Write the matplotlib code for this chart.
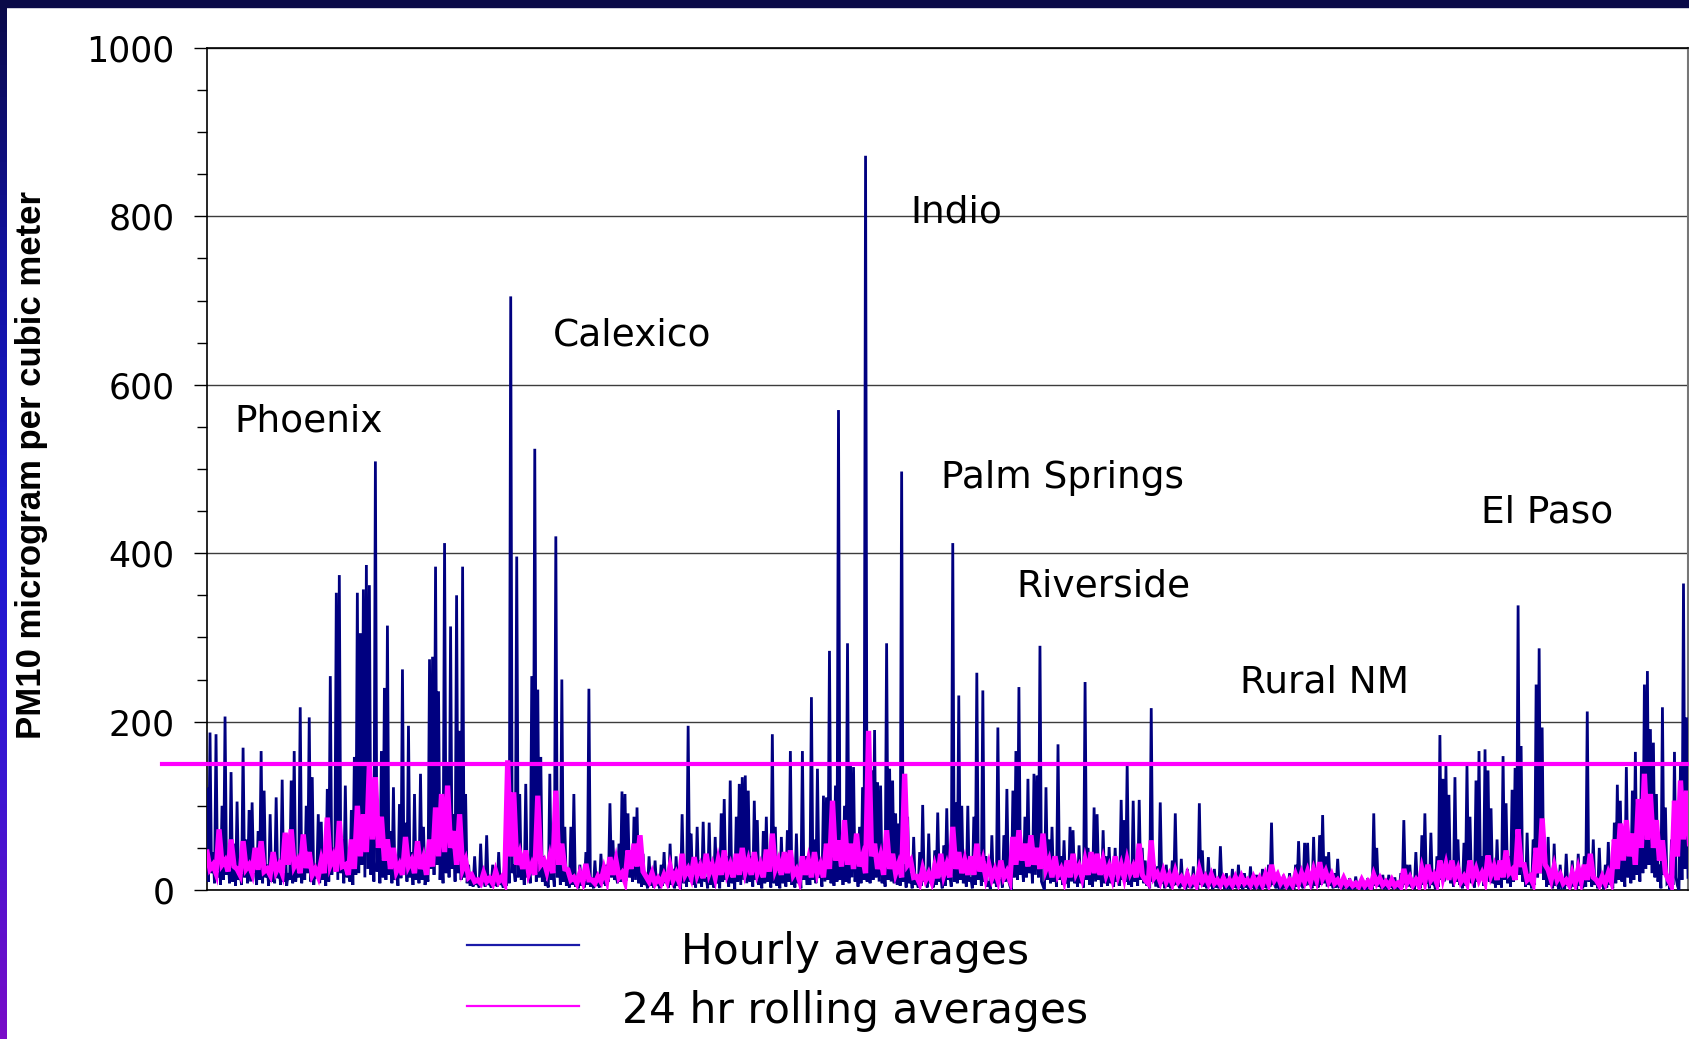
import numpy as np
import matplotlib
matplotlib.use("Agg")
import matplotlib.pyplot as plt
from matplotlib.colors import LinearSegmentedColormap
from matplotlib.patches import Rectangle

# PM10 hourly record, site by site: for each short time slot the slot's
# highest reading (peaks) and its lowest reading (lows)
peaks_phoenix = [
    120, 187, 45, 185, 60, 100, 206, 40, 140, 55,
    105, 20, 169, 60, 95, 104, 25, 70, 165, 118,
    30, 90, 45, 110, 25, 131, 60, 20, 130, 165,
    40, 217, 55, 100, 205, 134, 30, 90, 81, 35,
    120, 254, 50, 353, 374, 60, 124, 30, 95, 158,
    353, 305, 357, 386, 362, 120, 509, 60, 165, 240,
    314, 70, 122, 35, 102, 262, 80, 195, 45, 114,
    40, 138, 75, 20, 274, 277, 384, 236, 60, 412,
    150, 313, 90, 350, 189, 384, 114, 30, 15, 40,
    12, 55, 15, 65, 10, 30, 15, 45, 12, 35,
]
lows_phoenix = [
    10, 20, 8, 15, 6, 12, 18, 8, 10, 5,
    12, 6, 15, 8, 10, 20, 6, 12, 8, 15,
    5, 10, 8, 14, 6, 10, 5, 12, 8, 10,
    15, 8, 12, 20, 10, 6, 14, 8, 12, 5,
    10, 18, 25, 12, 20, 8, 15, 10, 6, 18,
    20, 30, 15, 25, 18, 10, 22, 8, 15, 12,
    18, 8, 12, 5, 14, 20, 10, 15, 6, 12,
    8, 12, 6, 10, 25, 18, 30, 12, 8, 20,
    15, 25, 10, 20, 12, 15, 8, 5, 4, 6,
    3, 8, 4, 6, 3, 5, 4, 6, 3, 5,
]
peaks_calexico = [
    60, 705, 30, 396, 114, 40, 126, 30, 254, 524,
    238, 158, 40, 10, 138, 25, 420, 60, 250, 75,
    20, 75, 114, 15, 30, 12, 45, 239, 15, 35,
    10, 43, 15, 30, 103, 59, 20, 55, 117, 114,
    91, 40, 87, 98, 30, 43, 12, 40, 15, 35,
    10, 30, 45, 15, 55, 25, 40, 10, 90, 30,
    195, 67, 20, 75, 35, 81, 15, 80, 25, 63,
    20, 91, 108, 40, 130, 30, 87, 126, 134, 136,
    118, 40, 106, 83, 20, 70, 87, 30, 185, 75,
    20, 63, 40, 71, 165, 30, 67, 25, 165, 40,
]
lows_calexico = [
    8, 20, 10, 15, 12, 6, 15, 8, 20, 10,
    15, 10, 5, 3, 12, 4, 15, 6, 10, 5,
    3, 6, 4, 2, 5, 3, 6, 4, 2, 5,
    3, 8, 5, 10, 15, 12, 8, 10, 18, 12,
    15, 10, 12, 8, 4, 6, 2, 5, 3, 6,
    2, 5, 8, 3, 6, 2, 5, 1, 8, 4,
    10, 6, 3, 8, 4, 10, 2, 6, 3, 8,
    2, 10, 12, 4, 8, 1, 10, 6, 12, 8,
    10, 4, 12, 6, 2, 8, 10, 3, 8, 5,
    2, 8, 4, 10, 6, 3, 8, 2, 12, 6,
]
peaks_coachella = [
    40, 229, 60, 144, 25, 112, 110, 284, 45, 124,
    570, 50, 100, 293, 150, 146, 40, 75, 122, 872,
    60, 142, 190, 128, 124, 40, 293, 144, 130, 91,
    79, 497, 30, 87, 20, 63, 15, 45, 101, 20,
    67, 20, 47, 92, 15, 53, 97, 20, 412, 104,
    231, 100, 30, 100, 15, 87, 258, 45, 237, 40,
    10, 65, 30, 193, 20, 65, 120, 5, 118, 165,
    241, 40, 87, 132, 50, 138, 136, 290, 5, 122,
    60, 75, 30, 173, 40, 59, 20, 75, 71, 25,
    53, 20, 247, 50, 30, 98, 90, 25, 71, 40,
]
lows_coachella = [
    6, 12, 8, 15, 4, 10, 12, 8, 5, 10,
    12, 6, 10, 8, 15, 10, 4, 8, 12, 10,
    8, 12, 15, 10, 8, 4, 12, 10, 8, 6,
    5, 10, 3, 8, 2, 6, 3, 5, 10, 3,
    8, 3, 6, 10, 2, 5, 12, 4, 10, 8,
    12, 8, 4, 10, 2, 6, 12, 5, 10, 4,
    1, 8, 4, 12, 3, 10, 12, 0, 15, 12,
    18, 10, 15, 20, 8, 18, 15, 10, 0, 12,
    8, 10, 4, 12, 6, 8, 3, 10, 8, 4,
    8, 3, 12, 6, 4, 10, 12, 4, 8, 5,
]
peaks_rural_nm = [
    51, 15, 50, 20, 107, 83, 150, 20, 106, 30,
    107, 50, 35, 10, 216, 30, 28, 104, 15, 30,
    10, 35, 91, 12, 37, 10, 25, 8, 28, 10,
    103, 47, 10, 39, 8, 25, 10, 52, 8, 20,
    5, 25, 10, 30, 5, 20, 8, 28, 6, 18,
    5, 25, 10, 30, 80, 12, 20, 5, 18, 8,
    20, 5, 30, 58, 8, 56, 56, 10, 63, 25,
    65, 89, 40, 45, 10, 20, 37, 5, 15, 8,
    14, 4, 16, 6, 12, 3, 14, 8, 91, 50,
    10, 18, 5, 18, 8, 15, 5, 20, 83, 30,
]
lows_rural_nm = [
    8, 4, 10, 5, 12, 10, 6, 4, 10, 5,
    12, 8, 5, 2, 10, 4, 3, 8, 2, 4,
    2, 5, 6, 2, 4, 1, 3, 2, 4, 1,
    6, 4, 2, 5, 1, 3, 2, 5, 1, 3,
    1, 3, 2, 4, 1, 3, 1, 4, 1, 2,
    1, 3, 2, 4, 6, 2, 3, 1, 2, 1,
    3, 1, 4, 6, 2, 5, 6, 2, 5, 3,
    6, 8, 4, 5, 2, 3, 4, 1, 2, 1,
    2, 1, 2, 1, 2, 0, 2, 1, 5, 4,
    2, 3, 1, 3, 1, 2, 1, 3, 6, 4,
]
peaks_el_paso = [
    30, 10, 45, 15, 65, 91, 20, 68, 10, 40,
    184, 132, 148, 113, 30, 134, 60, 15, 56, 148,
    87, 20, 130, 165, 40, 167, 142, 97, 20, 60,
    25, 159, 103, 40, 119, 145, 338, 171, 30, 68,
    15, 60, 244, 287, 193, 40, 63, 15, 55, 10,
    30, 5, 43, 12, 35, 8, 43, 15, 40, 212,
    40, 60, 15, 50, 8, 30, 57, 15, 80, 125,
    106, 40, 146, 60, 118, 164, 70, 150, 244, 260,
    191, 175, 114, 30, 217, 98, 10, 60, 164, 5,
    152, 364, 205,
]
lows_el_paso = [
    3, 1, 5, 2, 6, 8, 2, 6, 1, 4,
    12, 10, 15, 8, 4, 10, 6, 2, 5, 12,
    8, 3, 10, 12, 5, 14, 10, 8, 3, 6,
    3, 12, 8, 4, 10, 12, 18, 10, 4, 6,
    2, 6, 15, 20, 12, 4, 6, 2, 5, 1,
    3, 1, 5, 2, 4, 1, 5, 2, 4, 10,
    4, 6, 2, 5, 1, 3, 6, 2, 8, 12,
    10, 4, 15, 8, 12, 18, 10, 20, 25, 30,
    20, 15, 10, 2, 18, 8, 0, 6, 15, 0,
    12, 25, 15,
]

# 24-hour rolling averages: crest and dip of each slot (slots twice as long)
roll_crest_phoenix = [
    45, 30, 72, 35, 60, 25, 58, 30, 50, 58,
    25, 45, 30, 68, 72, 35, 66, 45, 25, 35,
    86, 40, 82, 30, 60, 100, 90, 150, 134, 87,
    60, 50, 30, 63, 35, 58, 38, 60, 98, 114,
    124, 70, 90, 35, 18, 12, 20, 14, 22, 15,
]
roll_dip_phoenix = [
    25, 20, 30, 22, 28, 18, 25, 20, 24, 22,
    18, 22, 20, 30, 28, 20, 26, 18, 16, 20,
    30, 22, 28, 18, 25, 40, 45, 60, 50, 35,
    25, 22, 18, 28, 20, 25, 18, 28, 40, 45,
    50, 30, 25, 15, 10, 8, 10, 8, 10, 8,
]
roll_crest_calexico = [
    154, 116, 43, 47, 30, 112, 35, 39, 118, 55,
    24, 15, 20, 31, 12, 16, 25, 39, 35, 20,
    47, 55, 65, 16, 20, 14, 18, 28, 20, 43,
    25, 39, 28, 43, 30, 35, 47, 30, 43, 50,
    35, 45, 30, 48, 67, 35, 45, 47, 24, 40,
]
roll_dip_calexico = [
    40, 30, 25, 20, 18, 30, 22, 20, 30, 25,
    12, 8, 10, 12, 8, 10, 12, 18, 15, 10,
    25, 28, 22, 10, 8, 8, 10, 12, 10, 18,
    15, 18, 14, 20, 15, 18, 20, 15, 18, 22,
    18, 20, 15, 22, 25, 18, 20, 18, 12, 18,
]
roll_crest_coachella = [
    35, 45, 30, 55, 106, 59, 83, 55, 67, 40,
    189, 55, 40, 71, 43, 31, 138, 35, 16, 25,
    20, 28, 43, 30, 75, 45, 35, 40, 55, 35,
    30, 24, 35, 22, 63, 71, 55, 65, 50, 67,
    35, 40, 25, 35, 43, 28, 35, 45, 43, 35,
]
roll_dip_coachella = [
    15, 20, 15, 25, 35, 28, 30, 25, 28, 20,
    40, 25, 18, 25, 20, 15, 30, 15, 8, 12,
    10, 14, 18, 15, 25, 20, 18, 18, 22, 15,
    14, 12, 15, 12, 30, 35, 28, 30, 25, 25,
    15, 18, 12, 15, 20, 15, 18, 20, 18, 18,
]
roll_crest_rural_nm = [
    28, 40, 30, 35, 28, 55, 12, 59, 20, 22,
    18, 22, 15, 18, 14, 24, 16, 18, 12, 14,
    12, 15, 16, 12, 15, 14, 18, 30, 18, 14,
    12, 18, 20, 22, 24, 33, 22, 18, 12, 14,
    10, 8, 12, 10, 18, 14, 10, 12, 8, 25,
]
roll_dip_rural_nm = [
    15, 18, 15, 20, 15, 18, 8, 15, 10, 10,
    8, 10, 7, 8, 6, 10, 8, 8, 6, 7,
    6, 7, 8, 6, 7, 6, 8, 12, 8, 6,
    6, 8, 10, 10, 12, 14, 10, 8, 6, 6,
    5, 4, 5, 4, 8, 6, 5, 5, 4, 8,
]
roll_crest_el_paso = [
    15, 12, 25, 30, 18, 35, 30, 35, 25, 16,
    35, 25, 20, 41, 28, 35, 47, 24, 72, 30,
    16, 50, 85, 24, 28, 18, 12, 20, 25, 30,
    43, 12, 16, 20, 60, 79, 83, 67, 108, 138,
    114, 83, 59, 12, 106, 130, 118,
]
roll_dip_el_paso = [
    6, 5, 10, 12, 8, 15, 12, 15, 10, 8,
    15, 12, 10, 18, 12, 15, 20, 12, 30, 12,
    8, 20, 30, 12, 12, 8, 6, 8, 10, 12,
    15, 6, 8, 10, 25, 35, 40, 30, 50, 60,
    50, 35, 20, 5, 40, 60, 55,
]

standard_24hr = 150

site_names = ["Phoenix", "Calexico", "Indio", "Palm Springs", "Riverside",
              "Rural NM", "El Paso"]
site_label_x = [18, 230, 468, 488, 538, 687, 847]
site_label_y = [544, 647, 793, 477, 349, 235, 436]

y_ticks = [0, 200, 400, 600, 800, 1000]
y_label = "PM10 microgram per cubic meter"
legend_labels = ["Hourly averages", "24 hr rolling averages"]


def slot_series(highs, lows):
    """Each slot contributes its high reading followed by its low reading."""
    return np.column_stack([highs, lows]).ravel().astype(float)


hourly = np.concatenate([
    slot_series(peaks_phoenix, lows_phoenix),
    slot_series(peaks_calexico, lows_calexico),
    slot_series(peaks_coachella, lows_coachella),
    slot_series(peaks_rural_nm, lows_rural_nm),
    slot_series(peaks_el_paso, lows_el_paso),
])
rolling = np.concatenate([
    slot_series(roll_crest_phoenix, roll_dip_phoenix),
    slot_series(roll_crest_calexico, roll_dip_calexico),
    slot_series(roll_crest_coachella, roll_dip_coachella),
    slot_series(roll_crest_rural_nm, roll_dip_rural_nm),
    slot_series(roll_crest_el_paso, roll_dip_el_paso),
])
x_hourly = np.arange(len(hourly))
x_rolling = np.arange(len(rolling)) * 2

W, H = 1690, 1039
fig = plt.figure(figsize=(W / 100, H / 100), dpi=100, facecolor="white")

# slide frame: dark band across the top and a blue-violet strip on the left
strip_ax = fig.add_axes([0, 0, 7 / W, 1])
grad = np.linspace(0, 1, 256).reshape(-1, 1)
frame_cmap = LinearSegmentedColormap.from_list(
    "frame", ["#0a0a48", "#1212a0", "#1a1ad0", "#3a16d2", "#7a0cc8"])
strip_ax.imshow(grad, aspect="auto", cmap=frame_cmap, origin="upper")
strip_ax.set_axis_off()
fig.add_artist(Rectangle((0, 1 - 7 / H), 1, 7 / H, transform=fig.transFigure,
                         color="#0a0a48", zorder=5))

ax = fig.add_axes([207 / W, 1 - 890 / H, 1481 / W, 842 / H])
ax.set_xlim(0, len(hourly) - 1)
ax.set_ylim(0, 1000)

ax.plot(x_hourly, hourly, color="#000080", lw=2.0, zorder=3,
        solid_joinstyle="miter")
ax.plot(x_rolling, rolling, color="#ff00ff", lw=3.8, zorder=4,
        solid_joinstyle="miter")
ax.plot([-0.0304, 1.0], [standard_24hr, standard_24hr], color="#ff00ff",
        lw=3.0, transform=ax.get_yaxis_transform(), clip_on=False, zorder=5)

ax.set_yticks(y_ticks)
ax.set_yticks(np.arange(50, 1000, 50), minor=True)
ax.set_xticks([])
ax.yaxis.grid(True, color="#3c3c3c", lw=1.0, zorder=1)
ax.set_axisbelow(True)
ax.tick_params(axis="y", which="major", direction="out", length=9.5, width=1,
               pad=14, labelsize=25, colors="black")
ax.tick_params(axis="y", which="minor", direction="out", length=7.5, width=1)
for lab in ax.get_yticklabels():
    lab.set_family("DejaVu Sans")
for side in ["left", "bottom", "top"]:
    ax.spines[side].set_color("black")
    ax.spines[side].set_linewidth(1.2)
ax.spines["right"].set_color("#777777")
ax.spines["right"].set_linewidth(1.5)

for name, lx, ly in zip(site_names, site_label_x, site_label_y):
    ax.text(lx, ly, name, fontsize=27, family="DejaVu Sans", ha="left",
            va="baseline", color="black", zorder=6)

fig.text(32 / W, 1 - 465 / H, y_label, rotation=90, ha="center", va="center",
         fontsize=25, fontweight="bold", family="Liberation Sans")

# legend drawn below the plot area
legend_colors = ["#1a1aa8", "#ff00ff"]
legend_line_y = [945, 1006]
legend_text_base = [964, 1023]
for lab, col, ly, tb in zip(legend_labels, legend_colors, legend_line_y,
                            legend_text_base):
    fig.add_artist(plt.Line2D([467 / W, 579 / W], [1 - ly / H, 1 - ly / H],
                              color=col, lw=1.6, transform=fig.transFigure))
    fig.text(855 / W, 1 - tb / H, lab, ha="center", va="baseline",
             fontsize=30.5, family="DejaVu Sans", color="black")

fig.savefig("out.png", dpi=100, facecolor="white")
